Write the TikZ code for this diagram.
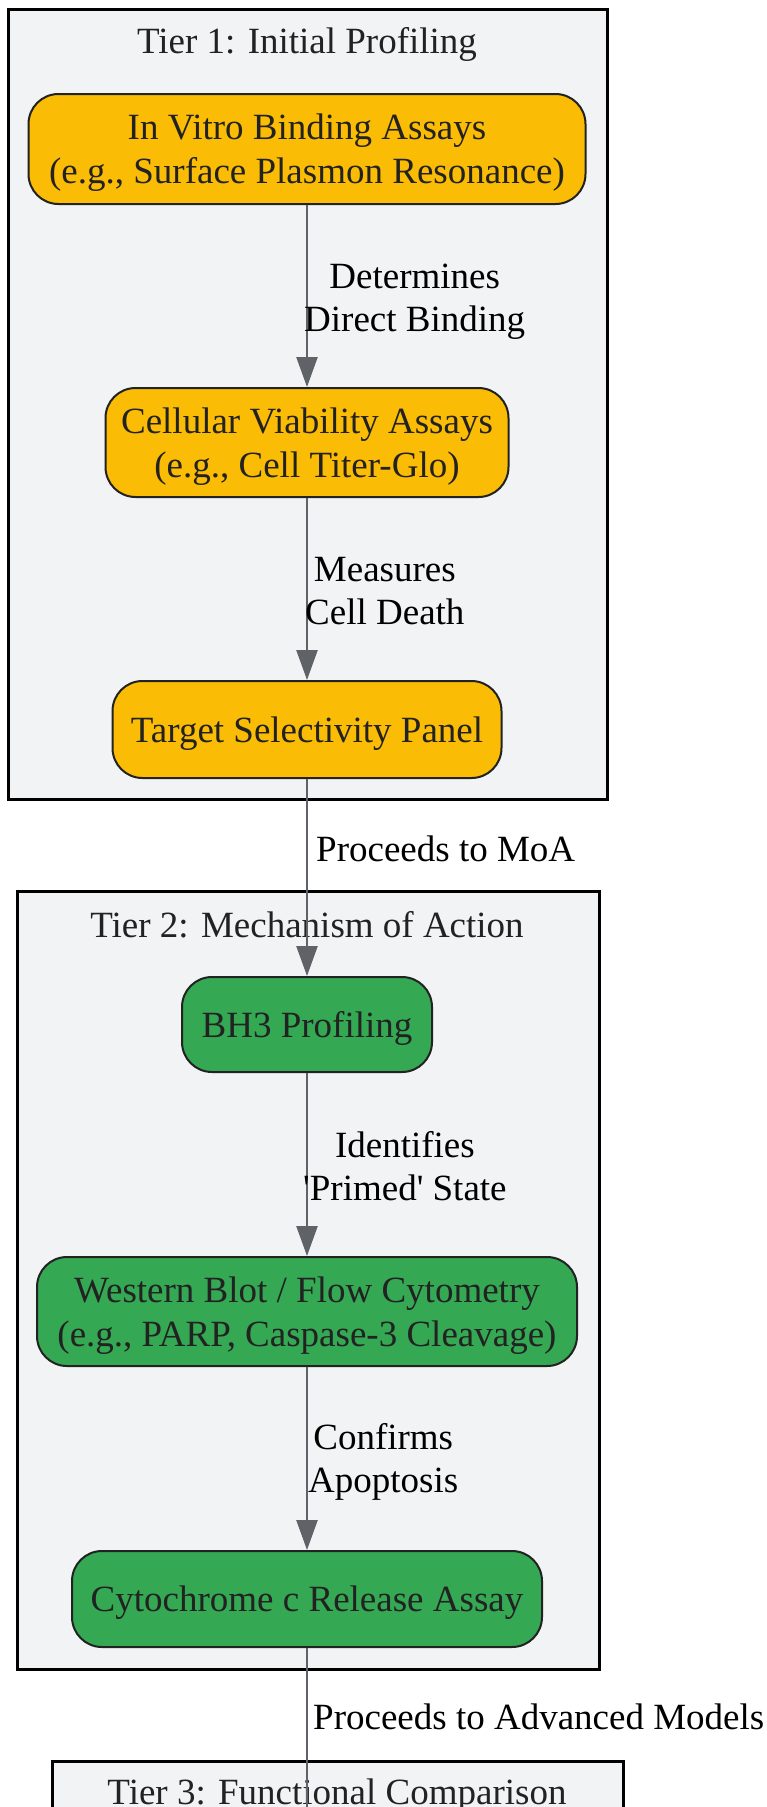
\documentclass[tikz,border=0pt]{standalone}
\usepackage{fontspec}
\setmainfont[Ligatures=TeXOff]{Liberation Serif}
\usetikzlibrary{arrows.meta}
\definecolor{tierfill}{HTML}{F1F3F4}
\definecolor{yel}{HTML}{FBBC05}
\definecolor{grn}{HTML}{34A853}
\definecolor{edgec}{HTML}{5F6368}
\definecolor{txt}{HTML}{222222}
\begin{document}
\begin{tikzpicture}[x=1pt,y=-1pt,
  tier/.style={draw=black, fill=tierfill, line width=2.5pt, inner sep=0, anchor=north west},
  tiertitle/.style={text=txt, font=\fontsize{37}{43}\selectfont, inner sep=0},
  box/.style={draw=txt, line width=2pt, rounded corners=30pt, align=center, text=txt,
    font=\fontsize{37}{44}\selectfont, inner sep=0, text depth=-1.5pt},
  ybox/.style={box, fill=yel},
  gbox/.style={box, fill=grn},
  flow/.style={draw=edgec, line width=2.5pt, -{Triangle[length=30pt,width=21pt]}},
  plainflow/.style={draw=edgec, line width=2.5pt},
  elabel/.style={anchor=west, align=center, inner sep=0, font=\fontsize{37}{43}\selectfont, text=black}]
\useasboundingbox (0,0) rectangle (766,1807);
\begin{scope}
\clip (0,0) rectangle (766,1807);
% tiers
\node[tier, minimum width=599pt, minimum height=790pt] (t1) at (7,8) {};
\node[tier, minimum width=582pt, minimum height=778pt] (t2) at (16,890) {};
\node[tier, minimum width=571pt, minimum height=140pt] (t3) at (51,1760) {};
\node[tiertitle] (t1title) at (307,44) {Tier 1: Initial Profiling};
\node[tiertitle] (t2title) at (307,925) {Tier 2: Mechanism of Action};
\node[tiertitle] (t3title) at (337,1796) {Tier 3: Functional Comparison};
% nodes
\node[ybox, minimum width=557pt, minimum height=110pt] (n1) at (307,149) {In Vitro Binding Assays\\(e.g., Surface Plasmon Resonance)};
\node[ybox, minimum width=403pt, minimum height=109pt] (n2) at (307,442.5) {Cellular Viability Assays\\(e.g., Cell Titer-Glo)};
\node[ybox, minimum width=389pt, minimum height=97pt] (n3) at (307,729.5) {Target Selectivity Panel};
\node[gbox, minimum width=250pt, minimum height=95pt] (n4) at (307,1024.5) {BH3 Profiling};
\node[gbox, minimum width=540pt, minimum height=109pt] (n5) at (307,1311.5) {Western Blot / Flow Cytometry\\(e.g., PARP, Caspase-3 Cleavage)};
\node[gbox, minimum width=470pt, minimum height=96pt] (n6) at (307,1599) {Cytochrome c Release Assay};
\coordinate (bot) at (307,1840);
% edges
\draw[flow] (n1) -- (n2);
\draw[flow] (n2) -- (n3);
\draw[flow] (n3) -- (n4);
\draw[flow] (n4) -- (n5);
\draw[flow] (n5) -- (n6);
\draw[plainflow] (n6) -- (bot);
% labels
\node[elabel] (l1) at (304,302) {Determines\\Direct Binding};
\node[elabel] (l2) at (305,591.5) {Measures\\Cell Death};
\node[elabel] (l3) at (316,849) {Proceeds to MoA};
\node[elabel] (l4) at (303,1166) {Identifies\\'Primed' State};
\node[elabel] (l5) at (308,1462) {Confirms\\Apoptosis};
\node[elabel] (l6) at (313,1717) {Proceeds to Advanced Models};
\end{scope}
\end{tikzpicture}
\end{document}
